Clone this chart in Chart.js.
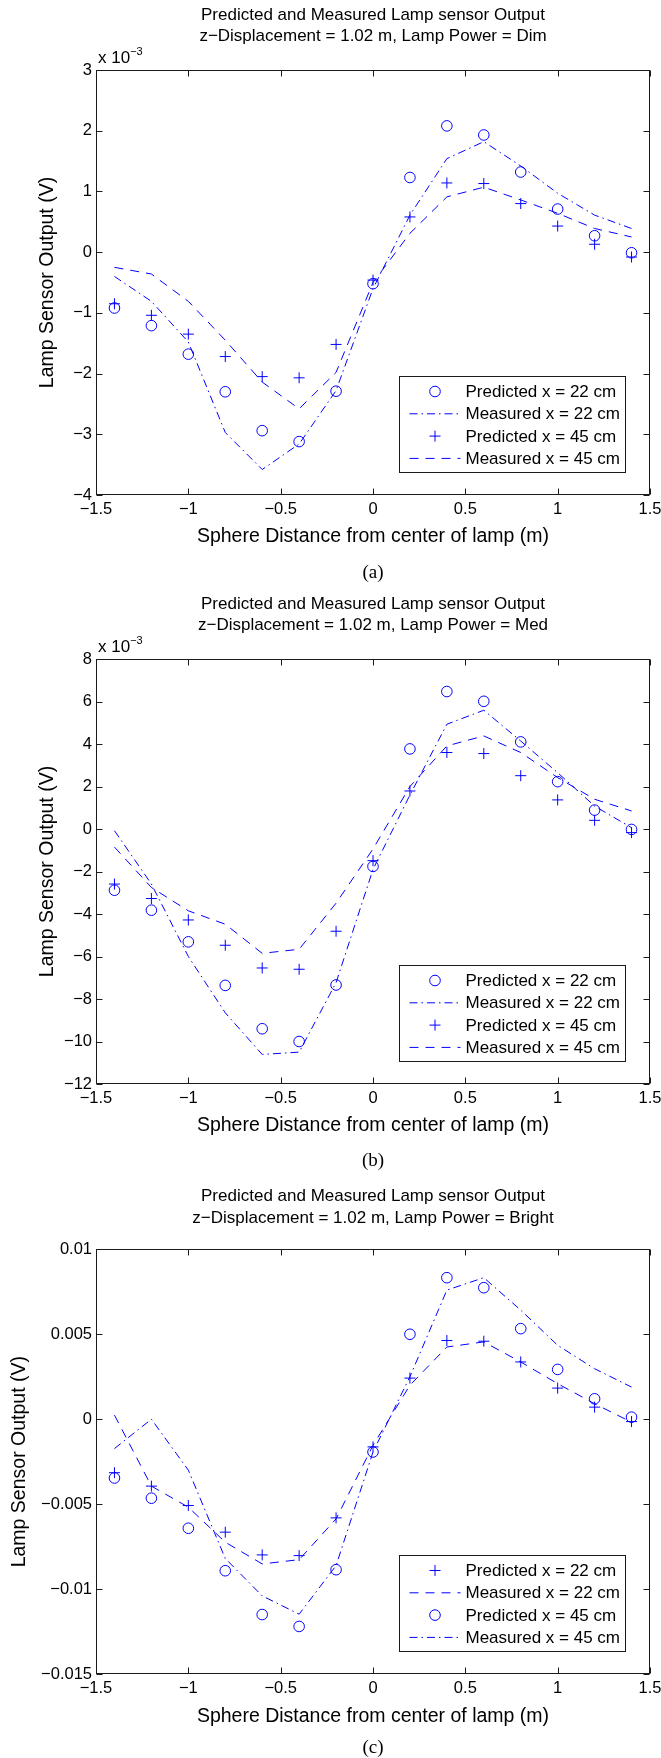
<!DOCTYPE html>
<html>
<head>
<meta charset="utf-8">
<title>Predicted and Measured Lamp sensor Output</title>
<script src="https://cdn.jsdelivr.net/npm/chart.js@4.4.0/dist/chart.umd.min.js"></script>
<style>
  html, body { margin: 0; padding: 0; background: #fff; overflow: hidden; }
  body { position: relative; width: 661px; height: 1758px; }
  canvas { position: absolute; left: 0; display: block; }
  .caption {
    position: absolute; left: 273px; width: 200px; height: 22px; line-height: 22px;
    text-align: center; font-family: "Liberation Serif", "Times New Roman", serif;
    font-size: 19px; color: #000;
  }
</style>
</head>
<body>
<canvas id="chartDim" width="661" height="590" style="top:0px"></canvas>
<canvas id="chartMed" width="661" height="590" style="top:589px"></canvas>
<canvas id="chartBright" width="661" height="590" style="top:1179px"></canvas>
<div class="caption" style="top:561px">(a)</div>
<div class="caption" style="top:1149px">(b)</div>
<div class="caption" style="top:1736px">(c)</div>

<script>
const FONT = '"Liberation Sans", Arial, Helvetica, sans-serif';
const BLUE = '#0000ff';
const AXIS = '#1a1a1a';
const DASHED = [9, 7];
const DASH_DOT = [8, 4, 1.5, 4];

// sphere positions (m), shared by every series
const xPositions = [-1.4, -1.2, -1.0, -0.8, -0.6, -0.4, -0.2, 0, 0.2, 0.4, 0.6, 0.8, 1.0, 1.2, 1.4];

// all sensor values below are in units of 1e-3 V
// (a) Lamp Power = Dim
const dimPredicted22 = [-0.92, -1.21, -1.68, -2.30, -2.94, -3.12, -2.29, -0.52, 1.23, 2.08, 1.93, 1.32, 0.71, 0.27, -0.01];
const dimMeasured22 = [-0.40, -0.81, -1.48, -2.97, -3.58, -3.16, -2.28, -0.60, 0.61, 1.54, 1.82, 1.42, 0.97, 0.61, 0.39];
const dimPredicted45 = [-0.85, -1.04, -1.35, -1.72, -2.05, -2.07, -1.52, -0.46, 0.58, 1.14, 1.13, 0.80, 0.43, 0.13, -0.08];
const dimMeasured45 = [-0.25, -0.36, -0.81, -1.45, -2.14, -2.58, -1.98, -0.50, 0.31, 0.91, 1.07, 0.86, 0.64, 0.39, 0.25];

// (b) Lamp Power = Med
const medPredicted22 = [-2.88, -3.82, -5.31, -7.36, -9.40, -10.0, -7.34, -1.76, 3.77, 6.47, 6.01, 4.10, 2.23, 0.89, -0.02];
const medMeasured22 = [-0.08, -2.59, -6.00, -8.65, -10.61, -10.50, -7.23, -1.90, 1.60, 4.93, 5.59, 4.14, 2.65, 1.08, 0.06];
const medPredicted45 = [-2.59, -3.27, -4.28, -5.47, -6.54, -6.60, -4.81, -1.49, 1.79, 3.60, 3.55, 2.51, 1.37, 0.41, -0.17];
const medMeasured45 = [-0.85, -2.75, -3.85, -4.48, -5.85, -5.66, -3.49, -0.94, 2.00, 3.91, 4.38, 3.60, 2.42, 1.40, 0.85];

// (c) Lamp Power = Bright
const brightPredicted22 = [-3.15, -3.94, -5.08, -6.65, -7.99, -8.03, -5.81, -1.63, 2.42, 4.63, 4.59, 3.37, 1.83, 0.71, -0.14];
const brightMeasured22 = [0.24, -3.94, -5.18, -7.24, -8.52, -8.27, -5.87, -1.54, 2.00, 4.25, 4.55, 3.37, 2.09, 0.91, -0.18];
const brightPredicted45 = [-3.46, -4.65, -6.42, -8.92, -11.5, -12.2, -8.86, -1.93, 5.00, 8.33, 7.74, 5.33, 2.93, 1.20, 0.12];
const brightMeasured45 = [-1.73, 0.00, -3.00, -8.20, -10.40, -11.48, -8.62, -1.93, 2.50, 7.60, 8.33, 6.42, 4.35, 2.97, 1.89];

// axis ranges [min, max, step]
const xRange = [-1.5, 1.5, 0.5];
const dimYRange = [-4, 3, 1];
const medYRange = [-12, 8, 2];
const brightYRange = [-15, 10, 5];

const xLabel = 'Sphere Distance from center of lamp (m)';
const yLabel = 'Lamp Sensor Output (V)';
const titleLine1 = 'Predicted and Measured Lamp sensor Output';

function fmt(v) {
  const r = Math.round(v * 100000) / 100000;
  return String(r).replace('-', '\u2212');
}

function pts(vals) {
  return xPositions.map((x, i) => ({ x, y: vals[i] }));
}

function markerSet(label, vals, style) {
  return {
    label,
    data: pts(vals),
    showLine: false,
    pointStyle: style,
    pointRadius: style === 'circle' ? 5.3 : 5.5,
    pointBorderColor: BLUE,
    pointBackgroundColor: 'rgba(0,0,0,0)',
    pointBorderWidth: 1,
    borderColor: BLUE,
  };
}

function lineSet(label, vals, dash) {
  return {
    label,
    data: pts(vals),
    showLine: true,
    borderColor: BLUE,
    borderWidth: 1,
    borderDash: dash,
    pointRadius: 0,
    tension: 0,
    fill: false,
  };
}

// MATLAB style axes box, inward ticks, exponent note and legend box
const matlabFrame = {
  id: 'matlabFrame',
  afterDraw(chart, args, opts) {
    const { ctx, chartArea: a, scales: { x, y } } = chart;
    const L = Math.round(a.left) + 0.5, R = Math.round(a.right) - 0.5;
    const T = Math.round(a.top) + 0.5, B = Math.round(a.bottom) - 0.5;
    ctx.save();
    ctx.strokeStyle = AXIS;
    ctx.lineWidth = 1;
    ctx.setLineDash([]);
    ctx.strokeRect(L, T, R - L, B - T);
    ctx.beginPath();
    x.ticks.forEach(t => {
      const px = Math.round(x.getPixelForValue(t.value)) + 0.5;
      ctx.moveTo(px, B); ctx.lineTo(px, B - 6);
      ctx.moveTo(px, T); ctx.lineTo(px, T + 6);
    });
    y.ticks.forEach(t => {
      const py = Math.round(y.getPixelForValue(t.value)) + 0.5;
      ctx.moveTo(L, py); ctx.lineTo(L + 6, py);
      ctx.moveTo(R, py); ctx.lineTo(R - 6, py);
    });
    ctx.stroke();

    ctx.fillStyle = '#000';
    if (opts.exponent) {
      ctx.textBaseline = 'alphabetic';
      ctx.textAlign = 'left';
      ctx.font = `17px ${FONT}`;
      ctx.fillText('x 10', a.left + 2, a.top - 7);
      const w = ctx.measureText('x 10').width;
      ctx.font = `11px ${FONT}`;
      ctx.fillText('\u22123', a.left + 2 + w, a.top - 15);
    }

    // legend
    const boxW = 226, boxH = 96;
    const left = Math.round(a.right - 25 - boxW) + 0.5;
    const top = Math.round(a.top + 306) + 0.5;
    ctx.fillStyle = '#fff';
    ctx.fillRect(left, top, boxW, boxH);
    ctx.strokeStyle = AXIS;
    ctx.strokeRect(left, top, boxW, boxH);
    ctx.font = `17px ${FONT}`;
    ctx.textBaseline = 'middle';
    ctx.textAlign = 'left';
    chart.data.datasets.forEach((ds, i) => {
      const cy = top + 15 + i * 22.3;
      const cx = left + 35.5;
      ctx.strokeStyle = BLUE;
      ctx.lineWidth = 1;
      ctx.beginPath();
      if (ds.showLine) {
        ctx.setLineDash(ds.borderDash);
        ctx.moveTo(left + 10, cy);
        ctx.lineTo(left + 61, cy);
      } else if (ds.pointStyle === 'circle') {
        ctx.setLineDash([]);
        ctx.arc(cx, cy, ds.pointRadius, 0, Math.PI * 2);
      } else {
        ctx.setLineDash([]);
        ctx.moveTo(cx - ds.pointRadius, cy); ctx.lineTo(cx + ds.pointRadius, cy);
        ctx.moveTo(cx, cy - ds.pointRadius); ctx.lineTo(cx, cy + ds.pointRadius);
      }
      ctx.stroke();
      ctx.setLineDash([]);
      ctx.fillStyle = '#000';
      ctx.fillText(ds.label, left + 66, cy + 1);
    });
    ctx.restore();
  }
};

function makeChart(canvasId, cfg) {
  return new Chart(document.getElementById(canvasId), {
    type: 'scatter',
    data: { datasets: cfg.datasets },
    options: {
      responsive: false,
      animation: false,
      events: [],
      layout: { padding: { left: 0, right: 11, top: 0, bottom: 0 } },
      plugins: {
        legend: { display: false },
        tooltip: { enabled: false },
        title: {
          display: true,
          fullSize: false,
          text: [titleLine1, cfg.title2],
          color: '#000',
          font: { family: FONT, size: 17, weight: 'normal', lineHeight: 1.28 },
          padding: { top: cfg.titleTop, bottom: cfg.titleBottom },
        },
        matlabFrame: { exponent: cfg.exponent },
      },
      scales: {
        x: {
          type: 'linear',
          min: xRange[0],
          max: xRange[1],
          grid: { display: false, drawTicks: false },
          border: { display: false },
          ticks: {
            stepSize: xRange[2],
            padding: 5,
            color: '#000',
            font: { family: FONT, size: 16.5 },
            maxRotation: 0,
            callback: v => fmt(v),
          },
          title: {
            display: true,
            text: xLabel,
            color: '#000',
            font: { family: FONT, size: 19.5, lineHeight: 1.2 },
            padding: { top: 0, bottom: cfg.xTitlePad },
          },
          afterFit: s => { s.height = 95; s.paddingLeft = 0; s.paddingRight = 0; },
        },
        y: {
          type: 'linear',
          min: cfg.yRange[0],
          max: cfg.yRange[1],
          grid: { display: false, drawTicks: false },
          border: { display: false },
          ticks: {
            stepSize: cfg.yRange[2],
            padding: 4,
            color: '#000',
            font: { family: FONT, size: 16.5 },
            callback: v => fmt(v / cfg.tickDivisor),
          },
          title: {
            display: true,
            text: yLabel,
            color: '#000',
            font: { family: FONT, size: 19.5, lineHeight: 1.2 },
            padding: { top: cfg.yTitlePad, bottom: 0 },
          },
          afterFit: s => { s.width = 96; s.paddingTop = 0; s.paddingBottom = 0; },
        },
      },
    },
    plugins: [matlabFrame],
  });
}

makeChart('chartDim', {
  title2: 'z\u2212Displacement = 1.02 m, Lamp Power = Dim',
  titleTop: 4, titleBottom: 22.5,
  exponent: true,
  yRange: dimYRange,
  tickDivisor: 1,
  xTitlePad: 41.6,
  yTitlePad: 35.6,
  datasets: [
    markerSet('Predicted x = 22 cm', dimPredicted22, 'circle'),
    lineSet('Measured x = 22 cm', dimMeasured22, DASH_DOT),
    markerSet('Predicted x = 45 cm', dimPredicted45, 'cross'),
    lineSet('Measured x = 45 cm', dimMeasured45, DASHED),
  ],
});

makeChart('chartMed', {
  title2: 'z\u2212Displacement = 1.02 m, Lamp Power = Med',
  titleTop: 4, titleBottom: 22.5,
  exponent: true,
  yRange: medYRange,
  tickDivisor: 1,
  xTitlePad: 41.6,
  yTitlePad: 35.6,
  datasets: [
    markerSet('Predicted x = 22 cm', medPredicted22, 'circle'),
    lineSet('Measured x = 22 cm', medMeasured22, DASH_DOT),
    markerSet('Predicted x = 45 cm', medPredicted45, 'cross'),
    lineSet('Measured x = 45 cm', medMeasured45, DASHED),
  ],
});

makeChart('chartBright', {
  title2: 'z\u2212Displacement = 1.02 m, Lamp Power = Bright',
  titleTop: 6.8, titleBottom: 20,
  exponent: false,
  yRange: brightYRange,
  tickDivisor: 1000,
  xTitlePad: 40.6,
  yTitlePad: 8.3,
  datasets: [
    markerSet('Predicted x = 22 cm', brightPredicted22, 'cross'),
    lineSet('Measured x = 22 cm', brightMeasured22, DASHED),
    markerSet('Predicted x = 45 cm', brightPredicted45, 'circle'),
    lineSet('Measured x = 45 cm', brightMeasured45, DASH_DOT),
  ],
});
</script>
</body>
</html>
